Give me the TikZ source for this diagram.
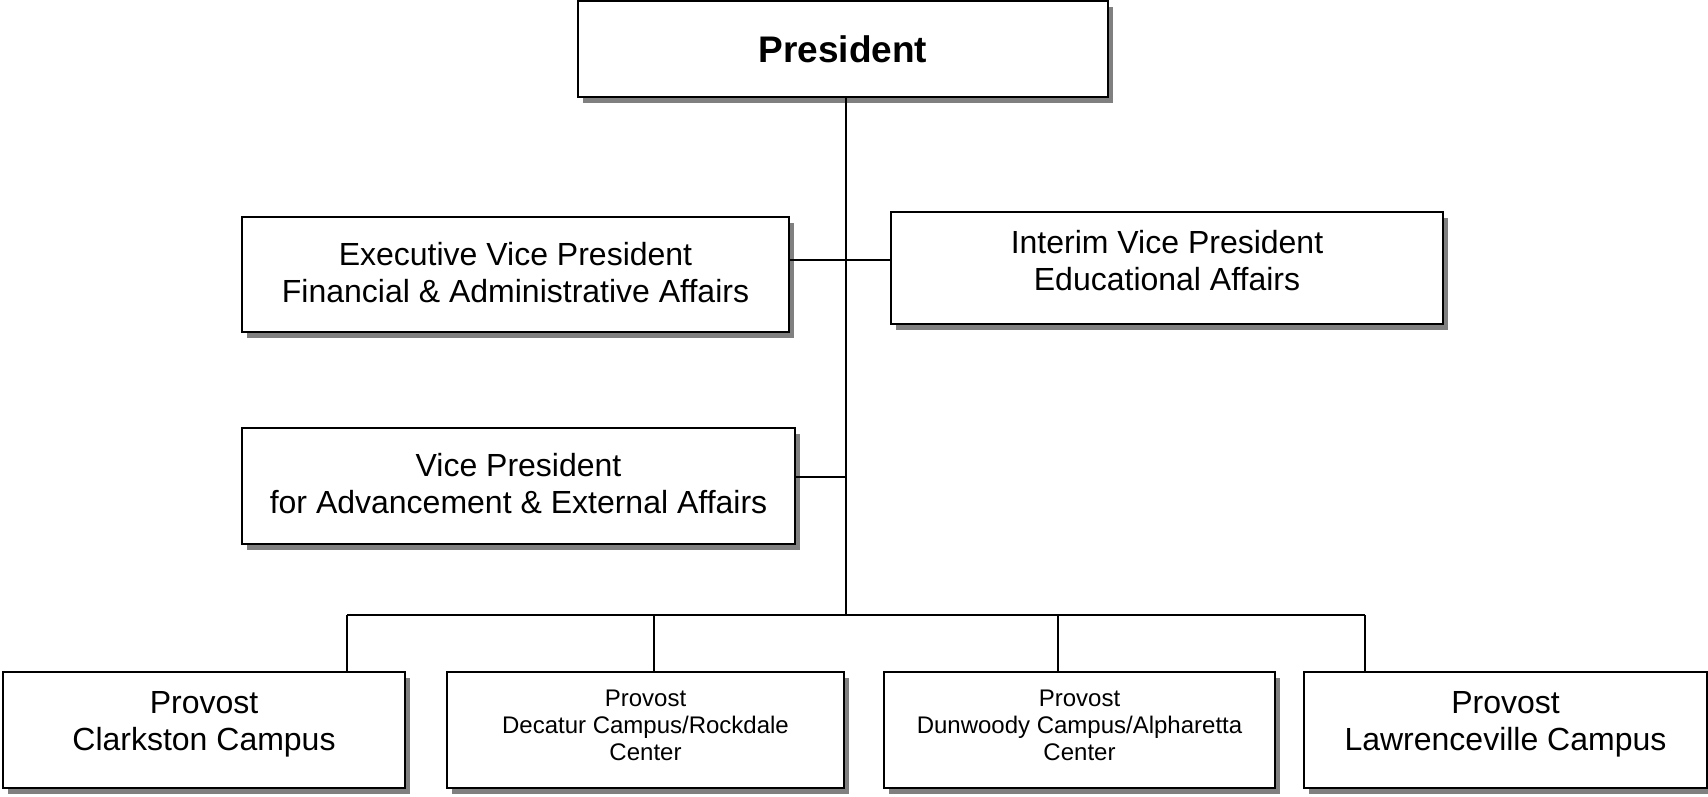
\documentclass[tikz,border=0pt]{standalone}
\usepackage{fontspec}
\setmainfont{Liberation Sans}
\usetikzlibrary{shadows}
\newcommand\boxtext[2]{\raisebox{#1}[\height][\depth]{\begin{tabular}{@{}c@{}}#2\end{tabular}}}
\begin{document}
\begin{tikzpicture}[x=1pt,y=-1pt,
  box/.style={draw, line width=2pt, fill=white, rectangle, inner sep=0pt,
    drop shadow={shadow xshift=5pt, shadow yshift=-6pt, fill=black!50, opacity=1}},
  big/.style={font=\fontsize{32}{37}\selectfont},
  small/.style={font=\fontsize{24}{27}\selectfont},
  conn/.style={line width=2pt}]
\useasboundingbox[fill=white] (0,0) rectangle (1708,796);

\node[box, minimum width=530pt, minimum height=96pt, font=\fontsize{37}{42}\bfseries\selectfont] (pres) at (843,49) {President};
\node[box, big, minimum width=547pt, minimum height=115pt] (evp) at (515.5,274.5) {\boxtext{-2pt}{Executive Vice President\\Financial \& Administrative Affairs}};
\node[box, big, minimum width=552pt, minimum height=112pt] (ivp) at (1167,268) {\boxtext{3pt}{Interim Vice President\\Educational Affairs}};
\node[box, big, minimum width=553pt, minimum height=116pt] (vpa) at (518.5,486) {\boxtext{-2pt}{Vice President\\for Advancement \& External Affairs}};
\node[box, big, minimum width=402pt, minimum height=116pt] (cl) at (204,730) {\boxtext{5pt}{Provost\\Clarkston Campus}};
\node[box, small, minimum width=397pt, minimum height=116pt] (de) at (645.5,730) {\boxtext{2pt}{Provost\\Decatur Campus/Rockdale\\Center}};
\node[box, small, minimum width=391pt, minimum height=116pt] (du) at (1079.5,730) {\boxtext{2pt}{Provost\\Dunwoody Campus/Alpharetta\\Center}};
\node[box, big, minimum width=403pt, minimum height=116pt] (la) at (1505.5,730) {\boxtext{5pt}{Provost\\Lawrenceville Campus}};

\coordinate (tk) at (846,615);
\coordinate (j1) at (846,260);
\coordinate (j2) at (846,477);
\coordinate (d1) at (347,615);
\coordinate (d2) at (654,615);
\coordinate (d3) at (1058,615);
\coordinate (d4) at (1365,615);

\draw[conn] (tk |- pres.south) -- (tk);
\draw[conn] (j1 -| evp.east) -- (j1 -| ivp.west);
\draw[conn] (j2 -| vpa.east) -- (j2);
\draw[conn] (d1) -- (d4);
\draw[conn] (d1) -- (d1 |- cl.north);
\draw[conn] (d2) -- (d2 |- de.north);
\draw[conn] (d3) -- (d3 |- du.north);
\draw[conn] (d4) -- (d4 |- la.north);
\end{tikzpicture}
\end{document}
